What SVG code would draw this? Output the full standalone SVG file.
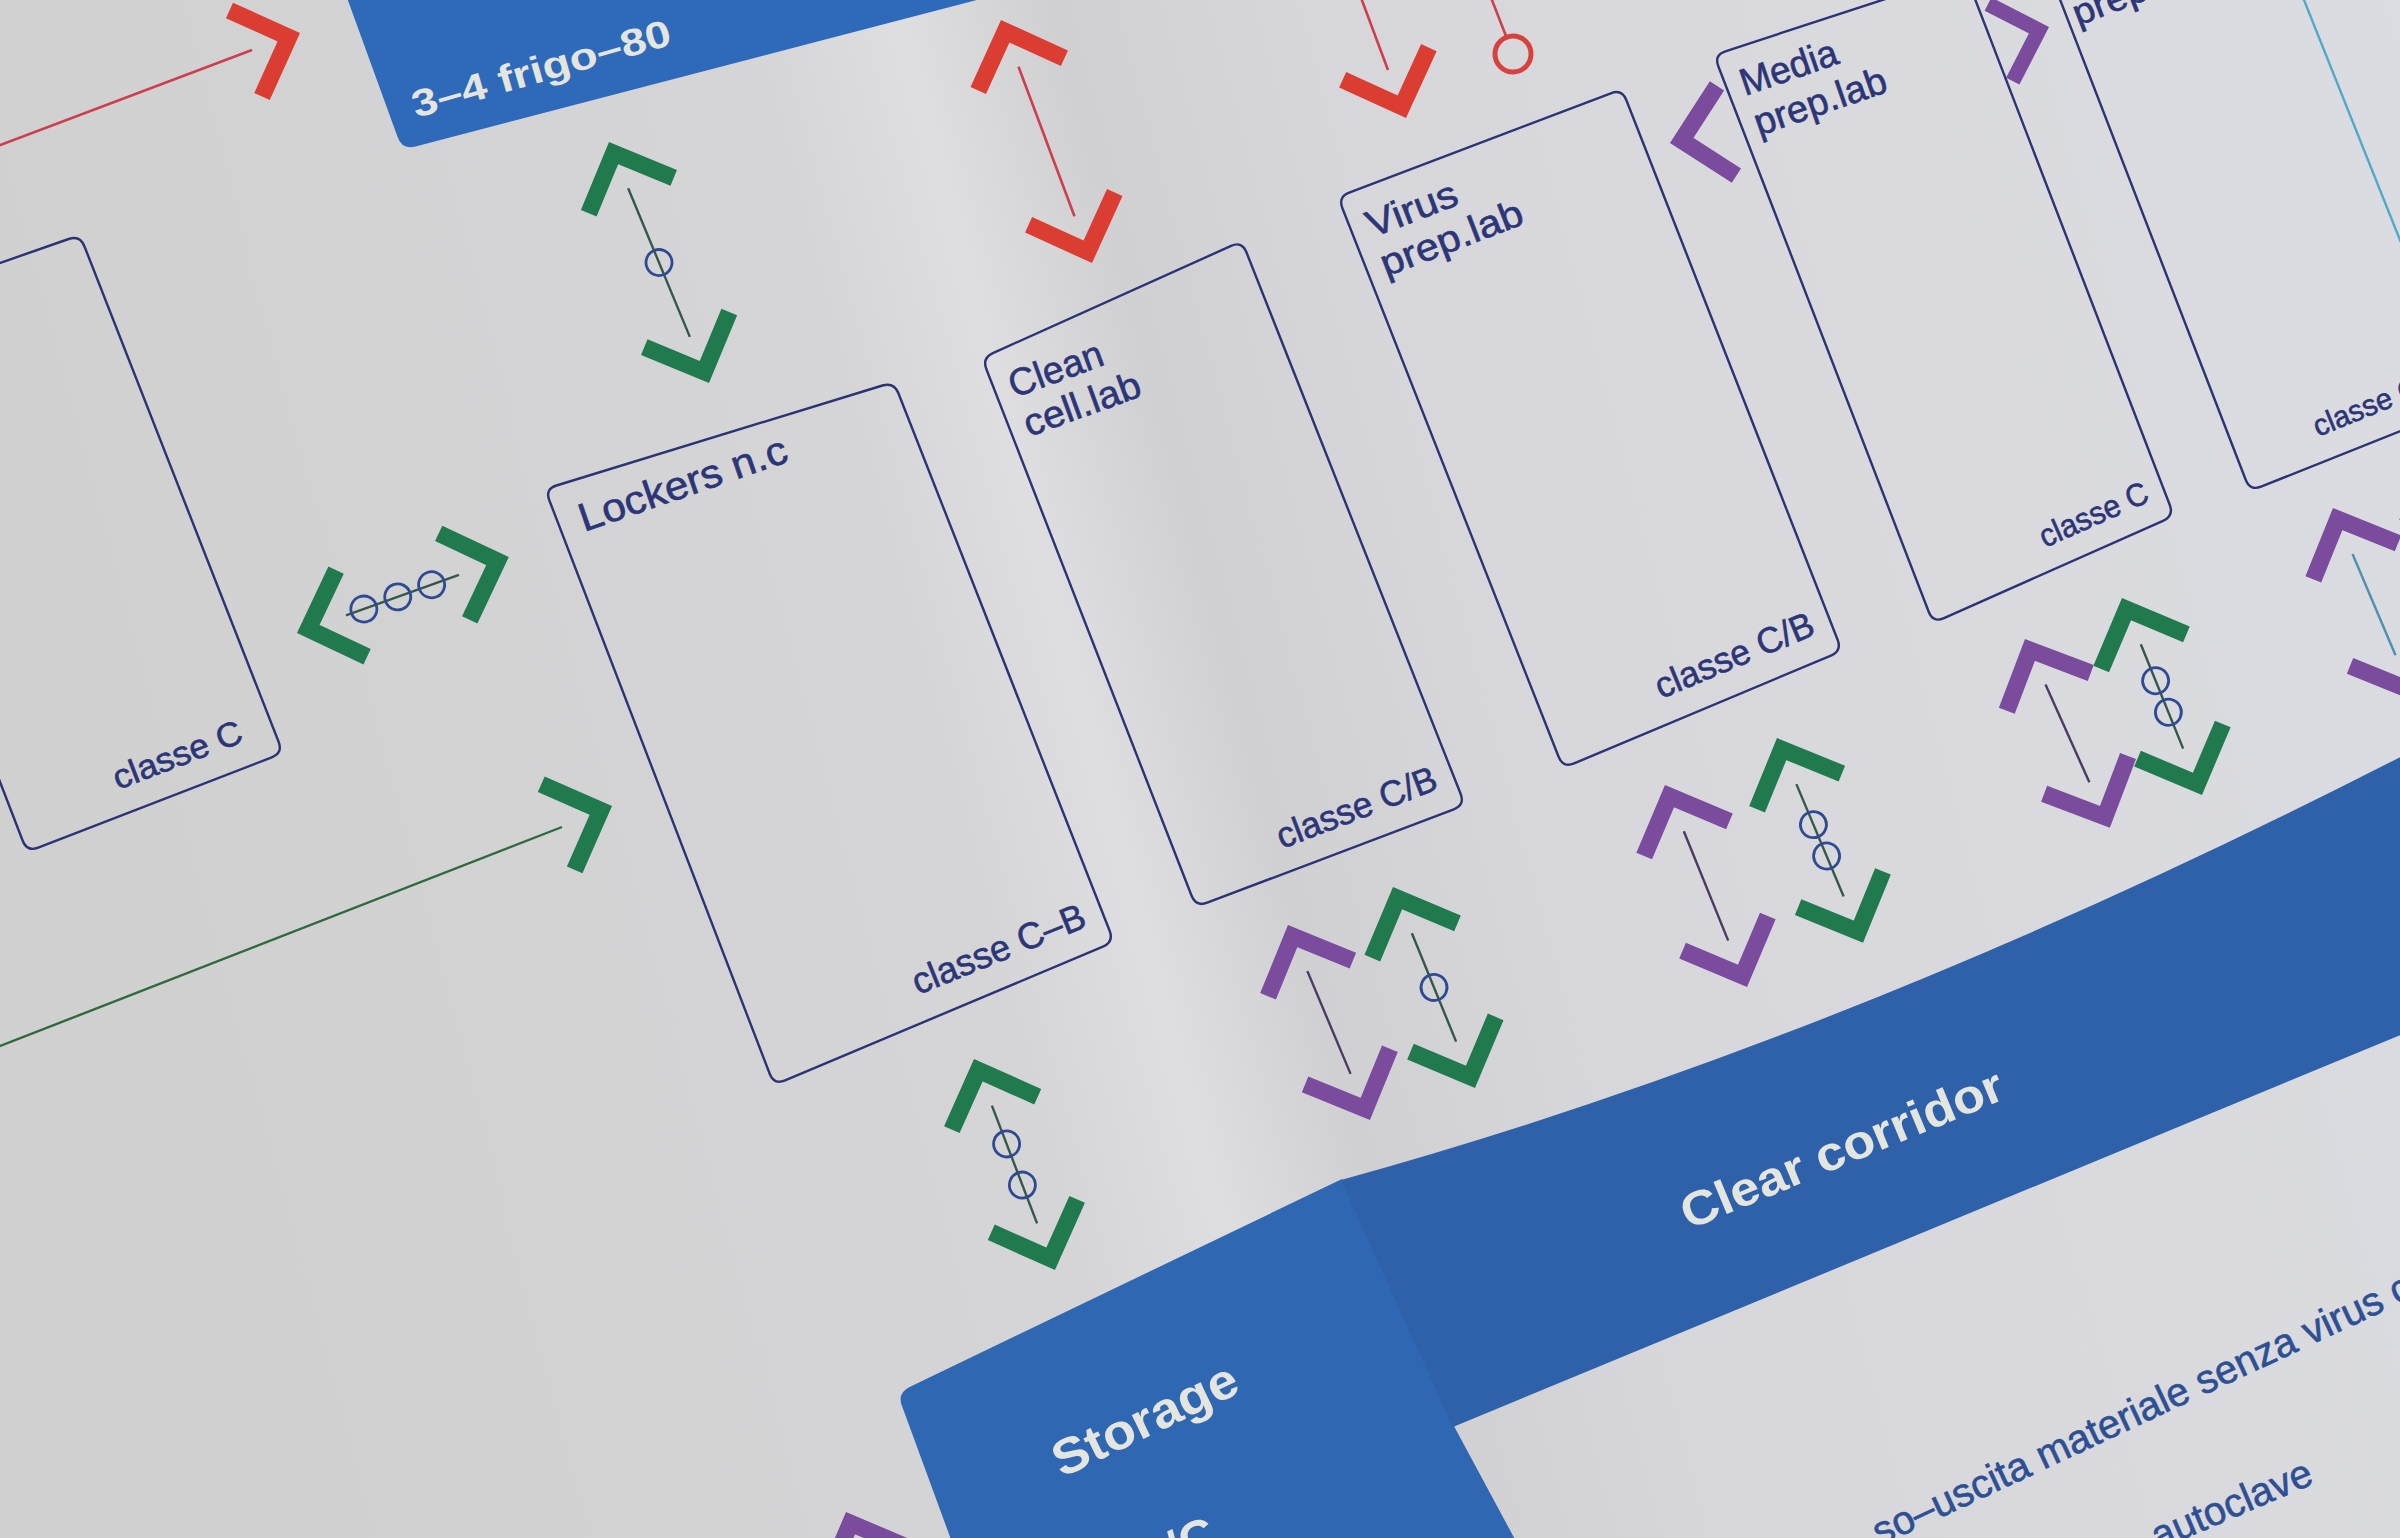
<svg xmlns="http://www.w3.org/2000/svg" width="2400" height="1538" viewBox="0 0 2400 1538">
<defs>
<linearGradient id="page" gradientUnits="userSpaceOnUse" x1="0" y1="500" x2="2400" y2="-140">
<stop offset="0" stop-color="#d0d0d1"/>
<stop offset="0.34" stop-color="#d5d5d7"/>
<stop offset="0.40" stop-color="#dedee0"/>
<stop offset="0.46" stop-color="#d0d0d3"/>
<stop offset="0.56" stop-color="#d7d7db"/>
<stop offset="1" stop-color="#dbdce1"/>
</linearGradient>
<style>
.box{fill:none;stroke:#2c3374;stroke-width:2.4}
.lbl{font-family:"Liberation Sans",Arial,sans-serif;fill:#2c3577;stroke:#2c3577;stroke-width:0.6}
.leg{font-family:"Liberation Sans",Arial,sans-serif;fill:#2d4f94;stroke:#2d4f94;stroke-width:0.6}
.wl{font-family:"Liberation Sans",Arial,sans-serif;fill:#e4e5df;font-weight:bold}
.cg{fill:none;stroke:#217a4e;stroke-width:17;stroke-linejoin:miter;stroke-miterlimit:4}
.cp{fill:none;stroke:#7b4b9d;stroke-width:17;stroke-linejoin:miter;stroke-miterlimit:4}
.cr{fill:none;stroke:#dc3d33;stroke-width:17;stroke-linejoin:miter;stroke-miterlimit:4}
.lg{fill:none;stroke:#35574a;stroke-width:2.4}
.lp{fill:none;stroke:#4b3a62;stroke-width:2.4}
.lr{fill:none;stroke:#cc3f4c;stroke-width:2.6}
.ring{fill:none;stroke:#2e4a94;stroke-width:2.8}
</style>
</defs>
<rect x="0" y="0" width="2400" height="1538" fill="url(#page)"/>

<g id="node-frigo">
<path d="M346,-5 L397.5,136.7 Q402,150 415.5,146.4 L996,-5 Z" fill="#2f69b9"/>
<text class="wl" x="416" y="118" font-size="38" textLength="268" lengthAdjust="spacingAndGlyphs" transform="rotate(-16 416 118)">3–4 frigo–80</text>
</g>

<g id="node-storage">
<path d="M953,1545 L902,1406 Q897,1393 909.6,1386.9 L1342,1179 L1455,1428 L1518,1545 Z" fill="#3067b3"/>
<text class="wl" x="1062" y="1478" font-size="50" textLength="200" lengthAdjust="spacingAndGlyphs" transform="rotate(-25.6 1062 1478)">Storage</text>
<text class="wl" x="1221" y="1546" font-size="50" text-anchor="end" transform="rotate(-25.6 1221 1546)">B/C</text>
</g>

<g id="node-corridor">
<path d="M1341,1180 Q1850,1040 2410,752 L2410,1031 L1453,1427 Z" fill="#2e61a9"/>
<text class="wl" x="1848" y="1164" font-size="48" text-anchor="middle" textLength="345" lengthAdjust="spacingAndGlyphs" transform="rotate(-22.5 1848 1164)">Clear corridor</text>
</g>

<g id="node-left">
<path class="box" d="M-10,266.5 L68.7,239 Q80,235 84.4,246.2 L278.6,741.8 Q283,753 271.8,757.3 L38.2,847.7 Q27,852 22.7,840.8 L-10,756"/>
<text class="lbl" x="118" y="790" font-size="34" textLength="136" lengthAdjust="spacingAndGlyphs" transform="rotate(-21 118 790)">classe C</text>
</g>

<g id="node-lockers">
<path class="box" d="M556.5,485.5 L882.5,385.5 Q894,382 898.4,393.2 L1109.6,930.8 Q1114,942 1102.9,946.7 L785.1,1080.3 Q774,1085 769.7,1073.8 L549.3,500.2 Q545,489 556.5,485.5 Z"/>
<text class="lbl" x="584" y="532" font-size="40" textLength="218" lengthAdjust="spacingAndGlyphs" transform="rotate(-19 584 532)">Lockers n.c</text>
<text class="lbl" x="918" y="995" font-size="37" textLength="184" lengthAdjust="spacingAndGlyphs" transform="rotate(-22 918 995)">classe C–B</text>
</g>

<g id="node-clean">
<path class="box" d="M992.9,353.1 L1231.1,245.9 Q1242,241 1246.4,252.2 L1460.6,793.8 Q1465,805 1453.8,809.3 L1207.2,902.7 Q1196,907 1191.6,895.8 L986.4,369.2 Q982,358 992.9,353.1 Z"/>
<text class="lbl" x="1014" y="398" font-size="38" textLength="98" lengthAdjust="spacingAndGlyphs" transform="rotate(-20 1014 398)">Clean</text>
<text class="lbl" x="1029" y="437" font-size="38" textLength="122" lengthAdjust="spacingAndGlyphs" transform="rotate(-20 1029 437)">cell.lab</text>
<text class="lbl" x="1282" y="849" font-size="36" textLength="169" lengthAdjust="spacingAndGlyphs" transform="rotate(-21 1282 849)">classe C/B</text>
</g>

<g id="node-virus">
<path class="box" d="M1349.2,192.7 L1610.8,93.3 Q1622,89 1626.4,100.2 L1837.6,639.8 Q1842,651 1830.9,655.6 L1574.1,763.4 Q1563,768 1558.6,756.8 L1342.4,208.2 Q1338,197 1349.2,192.7 Z"/>
<text class="lbl" x="1372" y="238" font-size="38" textLength="95" lengthAdjust="spacingAndGlyphs" transform="rotate(-21 1372 238)">Virus</text>
<text class="lbl" x="1386" y="277" font-size="38" textLength="150" lengthAdjust="spacingAndGlyphs" transform="rotate(-21 1386 277)">prep.lab</text>
<text class="lbl" x="1661" y="699" font-size="36" textLength="169" lengthAdjust="spacingAndGlyphs" transform="rotate(-22.7 1661 699)">classe C/B</text>
</g>

<g id="node-media">
<path class="box" d="M1725.4,51.3 L1965,-27 L2169.7,504.8 Q2174,516 2163,520.9 L1944,618.1 Q1933,623 1928.7,611.8 L1718.3,66.2 Q1714,55 1725.4,51.3 Z"/>
<text class="lbl" x="1745" y="96" font-size="38" textLength="101" lengthAdjust="spacingAndGlyphs" transform="rotate(-19 1745 96)">Media</text>
<text class="lbl" x="1759" y="136" font-size="38" textLength="138" lengthAdjust="spacingAndGlyphs" transform="rotate(-19 1759 136)">prep.lab</text>
<text class="lbl" x="2045" y="548" font-size="32" textLength="116" lengthAdjust="spacingAndGlyphs" transform="rotate(-24 2045 548)">classe C</text>
</g>

<g id="node-right">
<path class="box" d="M2037,-60 L2245.7,479.8 Q2250,491 2261.1,486.6 L2466,405"/>
<path fill="none" stroke="#4fa9c9" stroke-width="2.4" d="M2280,-60 L2466,405"/>
<text class="lbl" x="2078" y="26" font-size="36" textLength="140" lengthAdjust="spacingAndGlyphs" transform="rotate(-21 2078 26)">prep.lab</text>
<text class="lbl" x="2318" y="437" font-size="30" textLength="112" lengthAdjust="spacingAndGlyphs" transform="rotate(-22 2318 437)">classe C</text>
</g>

<g id="legend">
<text class="leg" x="1880" y="1546" font-size="40" textLength="590" lengthAdjust="spacingAndGlyphs" transform="rotate(-25 1880 1546)">so–uscita materiale senza virus c</text>
<text class="leg" x="2158" y="1550" font-size="40" textLength="171" lengthAdjust="spacingAndGlyphs" transform="rotate(-23 2158 1550)">autoclave</text>
</g>

<g id="connectors">
<path class="lr" d="M-5,147 L252,50"/>
<g transform="translate(300,33) rotate(69.3)"><path class="cr" d="M-46,58 L0,12 L46,58"/></g>

<g transform="translate(609,142) rotate(-22.53)">
<path class="cg" d="M-46,58 L0,12 L46,58"/><path class="cg" d="M-46,203 L0,249 L46,203"/>
<path class="lg" d="M0,50 V211"/><circle class="ring" cx="0" cy="130.5" r="13"/>
</g>

<g transform="translate(297,633) rotate(-109.72)">
<path class="cg" d="M-46,58 L0,12 L46,58"/><path class="cg" d="M-46,167 L0,213 L46,167"/>
<path class="lg" d="M0,52 V172"/>
<circle class="ring" cx="0" cy="71" r="13"/><circle class="ring" cx="0" cy="107" r="13"/><circle class="ring" cx="0" cy="143" r="13"/>
</g>

<path class="lg" d="M-5,1048 L562,827" style="stroke:#2f6a3c"/>
<g transform="translate(612,806) rotate(68.7)"><path class="cg" d="M-46,58 L0,12 L46,58"/></g>

<g transform="translate(974,1059) rotate(-21)">
<path class="cg" d="M-46,58 L0,12 L46,58"/><path class="cg" d="M-46,168 L0,214 L46,168"/>
<path class="lg" d="M0,50 V176"/><circle class="ring" cx="0" cy="91" r="13"/><circle class="ring" cx="0" cy="135" r="13"/>
</g>

<g transform="translate(1001,20) rotate(-20.53)">
<path class="cr" d="M-46,58 L0,12 L46,58"/><path class="cr" d="M-46,201.5 L0,247.5 L46,201.5"/>
<path class="lr" d="M0,50 V209.5"/>
</g>

<path class="lr" d="M1360,-5 L1388,70"/>
<g transform="translate(1406,118) rotate(159.6)"><path class="cr" d="M-46,58 L0,12 L46,58"/></g>

<path class="lr" d="M1490,-5 L1506,36"/>
<circle cx="1513" cy="54" r="18" fill="none" stroke="#d8423e" stroke-width="5"/>

<g transform="translate(1670,143) rotate(-102.2)"><path class="cp" d="M-46,58 L0,12 L46,58"/></g>
<g transform="translate(2049,27) rotate(72.2) scale(0.88)"><path class="cp" d="M-46,58 L0,12 L46,58"/></g>

<g transform="translate(1288,925) rotate(-22.8)">
<path class="cp" d="M-46,58 L0,12 L46,58"/><path class="cp" d="M-46,153.5 L0,199.5 L46,153.5"/>
<path class="lp" d="M0,50 V161.5"/>
</g>
<g transform="translate(1393,887) rotate(-22.2)">
<path class="cg" d="M-46,58 L0,12 L46,58"/><path class="cg" d="M-46,159 L0,205 L46,159"/>
<path class="lg" d="M0,50 V167"/><circle class="ring" cx="0" cy="108.5" r="13"/>
</g>

<g transform="translate(1665,785) rotate(-22.1)">
<path class="cp" d="M-46,58 L0,12 L46,58"/><path class="cp" d="M-46,160 L0,206 L46,160"/>
<path class="lp" d="M0,50 V168"/>
</g>
<g transform="translate(1777,738) rotate(-22.8)">
<path class="cg" d="M-46,58 L0,12 L46,58"/><path class="cg" d="M-46,164 L0,210 L46,164"/>
<path class="lg" d="M0,50 V172"/><circle class="ring" cx="0" cy="94" r="13"/><circle class="ring" cx="0" cy="128" r="13"/>
</g>

<g transform="translate(2025,639) rotate(-24.2)">
<path class="cp" d="M-46,58 L0,12 L46,58"/><path class="cp" d="M-46,149 L0,195 L46,149"/>
<path class="lp" d="M0,50 V157"/>
</g>
<g transform="translate(2122,598) rotate(-22.1)">
<path class="cg" d="M-46,58 L0,12 L46,58"/><path class="cg" d="M-46,154.6 L0,200.6 L46,154.6"/>
<path class="lg" d="M0,50 V162.6"/><circle class="ring" cx="0" cy="89.3" r="13"/><circle class="ring" cx="0" cy="123.3" r="13"/>
</g>

<g transform="translate(2333,508) rotate(-23)">
<path class="cp" d="M-46,58 L0,12 L46,58"/><path class="cp" d="M-46,152 L0,198 L46,152"/>
<path class="lp" d="M0,50 V160" style="stroke:#4f8fb0"/>
</g>
<g transform="translate(2428,452) rotate(-22)">
<path class="cg" d="M-46,58 L0,12 L46,58"/><path class="cg" d="M-46,154 L0,200 L46,154"/>
<path class="lg" d="M0,50 V162"/>
</g>

<g transform="translate(846,1512) rotate(-22)">
<path class="cp" d="M-46,58 L0,12 L46,58"/>
<path class="lp" d="M0,50 V160"/>
</g>
</g>
</svg>
